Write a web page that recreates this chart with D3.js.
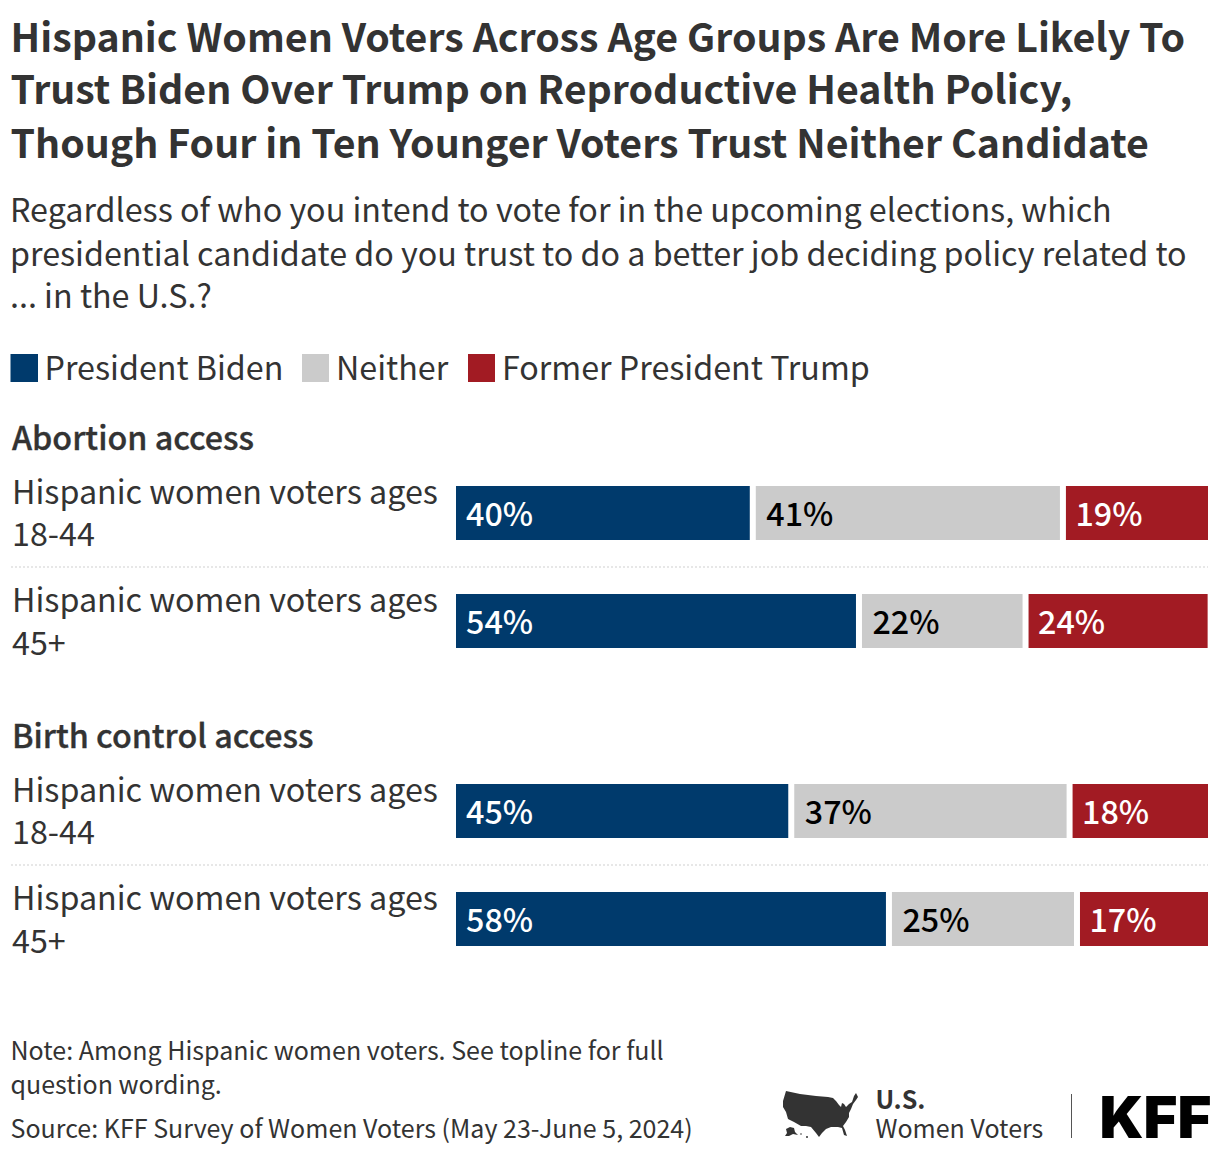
<!DOCTYPE html>
<html><head><meta charset="utf-8">
<style>html,body{margin:0;padding:0;background:#fff}svg{display:block}text{font-family:"Noto Sans CJK SC","Noto Sans",sans-serif}</style>
<script src="https://cdnjs.cloudflare.com/ajax/libs/d3/7.8.5/d3.min.js"></script>
</head><body>
<script>
const titleLines=["Hispanic Women Voters Across Age Groups Are More Likely To","Trust Biden Over Trump on Reproductive Health Policy,","Though Four in Ten Younger Voters Trust Neither Candidate"];
const subtitleLines=["Regardless of who you intend to vote for in the upcoming elections, which","presidential candidate do you trust to do a better job deciding policy related to","... in the U.S.?"];
const seriesNames=["President Biden","Neither","Former President Trump"];
const seriesColors=["#003a6c","#cbcbcb","#a21b23"];
const labelColors=["#ffffff","#000000","#ffffff"];
const groups=["Abortion access","Birth control access"];
const rowLabels=["Hispanic women voters ages 18-44","Hispanic women voters ages 45+"];
const biden=[39.7,54.05,44.9,58.1];
const neither=[41.1,21.7,36.8,24.6];
const trump=[19.2,24.2,18.3,17.3];
const shown=[[40,41,19],[54,22,24],[45,37,18],[58,25,17]];
const noteLines=["Note: Among Hispanic women voters. See topline for full","question wording."];
const source="Source: KFF Survey of Women Voters (May 23-June 5, 2024)";

const svg=d3.select("body").append("svg").attr("width",1220).attr("height",1156);
const ink="#333333";
const fs=32.25, small=25;
svg.selectAll(".t").data(titleLines).join("text").attr("x",10.5).attr("y",(d,i)=>[52,104,158][i]).attr("font-size",39.3).attr("font-weight",700).attr("fill",ink).text(d=>d);
svg.selectAll(".s").data(subtitleLines).join("text").attr("class","s").attr("x",10).attr("y",(d,i)=>[222,266,308][i]).attr("font-size",fs).attr("fill",ink).text(d=>d);

// legend
const legX=[10.5,302,468];
seriesNames.forEach((n,i)=>{
 svg.append("rect").attr("x",legX[i]).attr("y",354).attr("width",27.5-(i?0.5:0)).attr("height",28).attr("fill",seriesColors[i]);
 svg.append("text").attr("x",legX[i]+34-(i?0:0)).attr("y",380).attr("font-size",fs).attr("fill",ink).text(n);
});

// bars
const x=d3.scaleLinear().domain([0,100]).range([0,740]);
const rowTops=[486,594,784,892];
const rows=rowTops.map((top,i)=>({top,i,vals:[biden[i],neither[i],trump[i]]}));
const bh=54;
const headY=[450,748];
groups.forEach((g,i)=>svg.append("text").attr("x",12).attr("y",headY[i]).attr("font-size",fs).attr("font-weight",500).attr("fill",ink).attr("stroke",ink).attr("stroke-width",0.35).text(g));
rows.forEach(r=>{
 let cx=456;
 r.vals.forEach((v,k)=>{
  const w=x(v);
  svg.append("rect").attr("x",cx).attr("y",r.top).attr("width",w).attr("height",bh).attr("fill",seriesColors[k]);
  svg.append("text").attr("x",cx+[10,10.5,9.5][k]).attr("y",r.top+40).attr("font-size",fs).attr("font-weight",500).attr("fill",labelColors[k]).text(shown[r.i][k]+"%");
  cx+=w+6;
 });
 const lab=rowLabels[r.i%2];
 const m=lab.lastIndexOf(" ");
 svg.append("text").attr("x",12).attr("y",r.top+18).attr("font-size",fs).attr("fill",ink).text(lab.slice(0,m));
 svg.append("text").attr("x",12).attr("y",r.top+(r.i%2?61:60)).attr("font-size",fs).attr("fill",ink).text(lab.slice(m+1));
});
[567,865].forEach(y=>svg.append("line").attr("x1",11).attr("x2",1208).attr("y1",y).attr("y2",y).attr("stroke","#cfcfcf").attr("stroke-width",1).attr("stroke-dasharray","2 2"));

// notes
noteLines.forEach((t,i)=>svg.append("text").attr("x",10.5).attr("y",[1060,1094][i]).attr("font-size",small+0.03).attr("fill",ink).text(t));
svg.append("text").attr("x",10.5).attr("y",1138).attr("font-size",small+0.03).attr("fill",ink).text(source);

// logo
svg.append("path").attr("fill","#333").attr("d","M786 1091L800 1094L816 1096L828 1097L833 1098L836 1101L839 1105L841 1107L842 1103L844 1104L846 1107L849 1104L852 1102L854 1096L856 1093L858 1097L856 1100L853 1104L851 1109L849 1113L849 1117L846 1122L843 1126L845 1130L847 1136L844 1135L842 1128L838 1127L831 1127L826 1129L822 1133L819 1137L816 1133L811 1127L806 1126L801 1126L794 1122L788 1119L786 1112L783 1107L783 1101Z");
svg.append("path").attr("fill","#333").attr("d","M786 1129L790 1127L794 1128L795 1132L798 1135L793 1134L789 1136L785 1136L787 1133Z");
svg.append("circle").attr("cx",801).attr("cy",1134).attr("r",.8).attr("fill","#333");
svg.append("circle").attr("cx",807).attr("cy",1137).attr("r",1).attr("fill","#333");
svg.append("text").attr("x",875.5).attr("y",1108.5).attr("font-size",small).attr("font-weight",700).attr("fill",ink).text("U.S.");
svg.append("text").attr("x",875.5).attr("y",1138).attr("font-size",small).attr("fill",ink).text("Women Voters");
svg.append("line").attr("x1",1071.5).attr("x2",1071.5).attr("y1",1094).attr("y2",1138).attr("stroke","#555").attr("stroke-width",1);
svg.append("text").attr("x",1099.5).attr("y",1138).attr("font-size",58).attr("font-weight",900).attr("fill","#000").style("font-family","Inter").text("KFF");
</script>
</body></html>
